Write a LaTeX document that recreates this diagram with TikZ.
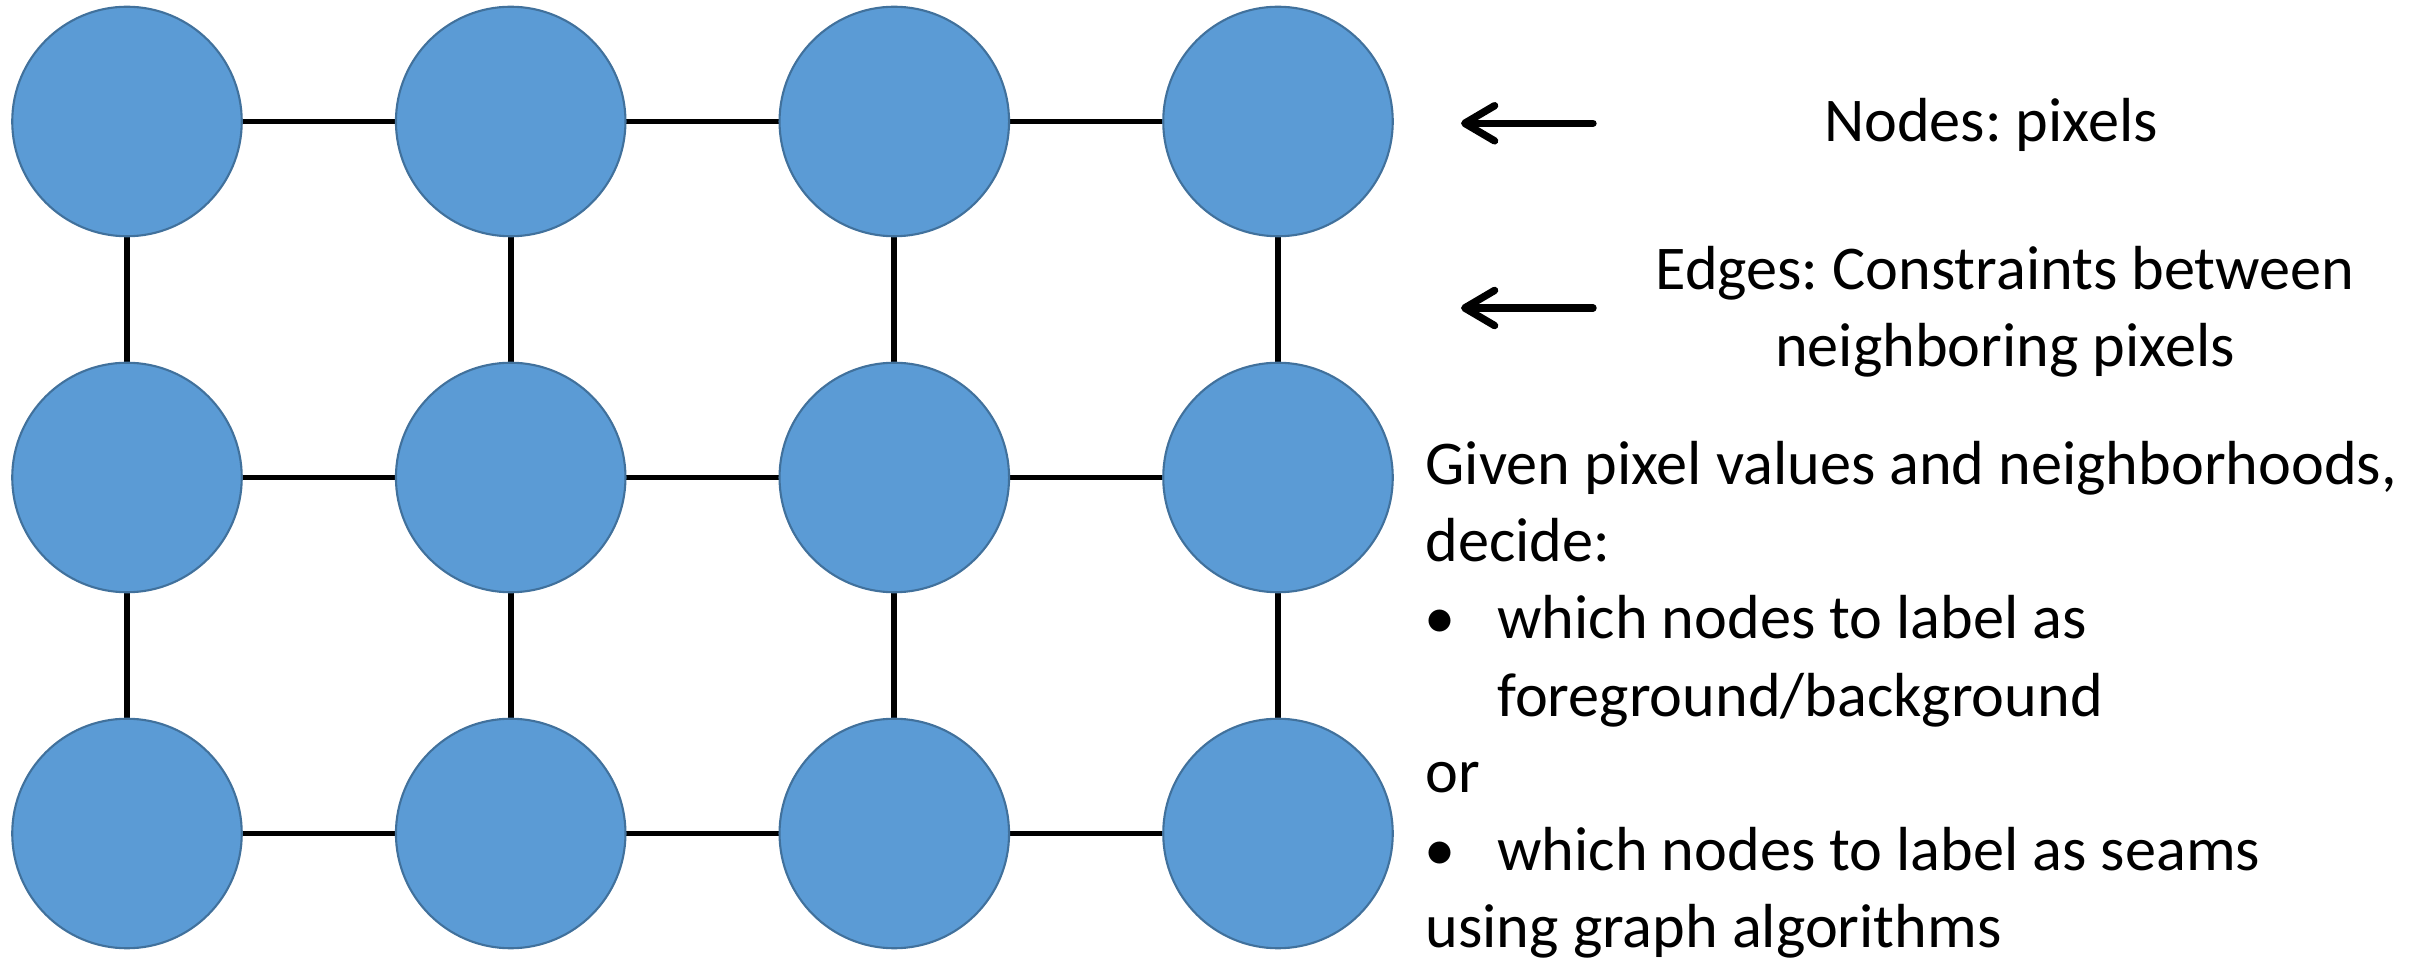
\documentclass[tikz,border=0pt]{standalone}
\usepackage{fontspec}
\setmainfont{Carlito}
\usetikzlibrary{arrows.meta}
\frenchspacing
\definecolor{nodefill}{HTML}{5B9BD5}
\definecolor{nodeline}{HTML}{41719C}
\tikzset{
  pix/.style={circle, fill=nodefill, draw=nodeline, line width=0.6pt, minimum size=2.294cm, inner sep=0pt},
  edge/.style={line width=1.7pt, black},
  pointer/.style={line width=2.1pt, line cap=round, -{Straight Barb[length=8.5pt, width=10pt, line cap=round, line join=round]}},
  txt/.style={font=\fontsize{17.7pt}{21pt}\selectfont\frenchspacing, inner sep=0pt, anchor=base west},
  ctxt/.style={font=\fontsize{17.7pt}{21pt}\selectfont\frenchspacing, inner sep=0pt, anchor=base}
}
\begin{document}
\begin{tikzpicture}[x=0.01cm, y=-0.01cm]
\useasboundingbox (0,0) rectangle (2420,958);
\foreach \c/\x in {1/127, 2/510.7, 3/894.3, 4/1278} {
  \foreach \r/\y in {1/121.5, 2/477.5, 3/833.5} {
    \coordinate (p\r\c) at (\x,\y);
  }
}
\foreach \r in {1,2,3} {
  \draw[edge] (p\r1) -- (p\r2) -- (p\r3) -- (p\r4);
}
\foreach \c in {1,2,3,4} {
  \draw[edge] (p1\c) -- (p2\c) -- (p3\c);
}
\foreach \r in {1,2,3} {
  \foreach \c in {1,2,3,4} {
    \node[pix] (n\r\c) at (p\r\c) {};
  }
}
% arrows
\coordinate (a1s) at (1593,123.3);
\coordinate (a1e) at (1461,123.3);
\coordinate (a2s) at (1593,308);
\coordinate (a2e) at (1461,308);
\draw[pointer] (a1s) -- (a1e);
\draw[pointer] (a2s) -- (a2e);
% right labels
\node[ctxt] (t1) at (1991,141.7) {Nodes: pixels};
\node[ctxt] (t2) at (2005,290) {Edges: Constraints between};
\node[ctxt] (t3) at (2005,366.7) {neighboring pixels};
\node[txt] (l1) at (1425,485) {Given pixel values and neighborhoods,};
\node[txt] (l2) at (1425,562) {decide:};
\node[txt] (b1) at (1424,639) {\textbullet};
\node[txt] (l3) at (1496.7,639) {which nodes to label as};
\node[txt] (l4) at (1496.7,716) {foreground/background};
\node[txt] (l5) at (1425,793) {or};
\node[txt] (b2) at (1424,870) {\textbullet};
\node[txt] (l6) at (1496.7,870) {which nodes to label as seams};
\node[txt] (l7) at (1425,947) {using graph algorithms};
\end{tikzpicture}
\end{document}
